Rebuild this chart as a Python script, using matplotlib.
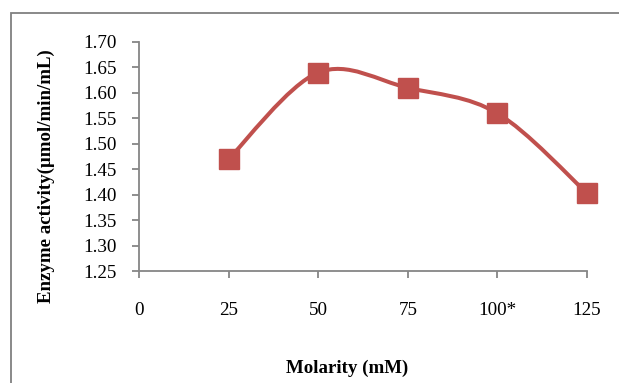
import matplotlib.pyplot as plt
from matplotlib.path import Path
from matplotlib.patches import PathPatch, Rectangle

plt.rcParams['font.family'] = ['Liberation Serif', 'DejaVu Serif']

# data
molarity = [25, 50, 75, 100, 125]
activity = [1.47, 1.64, 1.61, 1.56, 1.403]
tick_pos = [0, 25, 50, 75, 100, 125]
tick_labels = ["0", "25", "50", "75", "100*", "125"]
y_ticks = [1.25, 1.30, 1.35, 1.40, 1.45, 1.50, 1.55, 1.60, 1.65, 1.70]

red = "#C0504D"
grey = "#868686"

fig = plt.figure(figsize=(6.19, 3.83), dpi=100)
ax = fig.add_axes([139 / 619, 1 - 271 / 383, 448 / 619, 229 / 383])

# Excel-like smoothed line: cubic bezier through the points
pts = list(zip(molarity, activity))
verts = [pts[0]]
codes = [Path.MOVETO]
for i in range(len(pts) - 1):
    p0 = pts[i - 1] if i > 0 else pts[i]
    p1 = pts[i]
    p2 = pts[i + 1]
    p3 = pts[i + 2] if i + 2 < len(pts) else pts[i + 1]
    c1 = (p1[0] + (p2[0] - p0[0]) / 6, p1[1] + (p2[1] - p0[1]) / 6)
    c2 = (p2[0] - (p3[0] - p1[0]) / 6, p2[1] - (p3[1] - p1[1]) / 6)
    verts += [c1, c2, p2]
    codes += [Path.CURVE4] * 3
ax.add_patch(PathPatch(Path(verts, codes), facecolor="none", edgecolor=red,
                       lw=2.9, capstyle="round", joinstyle="round",
                       clip_on=False))
ax.plot(molarity, activity, linestyle="none", marker="s", markersize=14,
        color=red, markeredgecolor=red, clip_on=False, zorder=3)

ax.set_xlim(0, 125)
ax.set_ylim(1.25, 1.70)
ax.set_xticks(tick_pos)
ax.set_xticklabels(tick_labels)
ax.set_yticks(y_ticks)
ax.set_yticklabels(["%.2f" % v for v in y_ticks])

for s in ["top", "right"]:
    ax.spines[s].set_visible(False)
for s in ["left", "bottom"]:
    ax.spines[s].set_color(grey)
    ax.spines[s].set_linewidth(1.3)
ax.tick_params(axis="x", direction="out", length=5, width=1.3, color=grey,
               labelsize=13.8, pad=17)
ax.tick_params(axis="y", direction="out", length=5, width=1.3, color=grey,
               labelsize=13.8, pad=11)

ax.set_ylabel("Enzyme activity(μmol/min/mL)", fontsize=13.6, fontweight="bold")
ax.yaxis.set_label_coords(-0.1875, 0.415)
ax.set_xlabel("Molarity (mM)", fontsize=13.6, fontweight="bold")
ax.xaxis.set_label_coords(0.464, -0.389)

# outer chart border
fig.patches.append(Rectangle((11 / 619, -0.1), 1.2, 1 - 13 / 383 + 0.1,
                             transform=fig.transFigure, fill=False,
                             edgecolor="#808080", lw=1.3))

fig.savefig("out.png", dpi=100)
